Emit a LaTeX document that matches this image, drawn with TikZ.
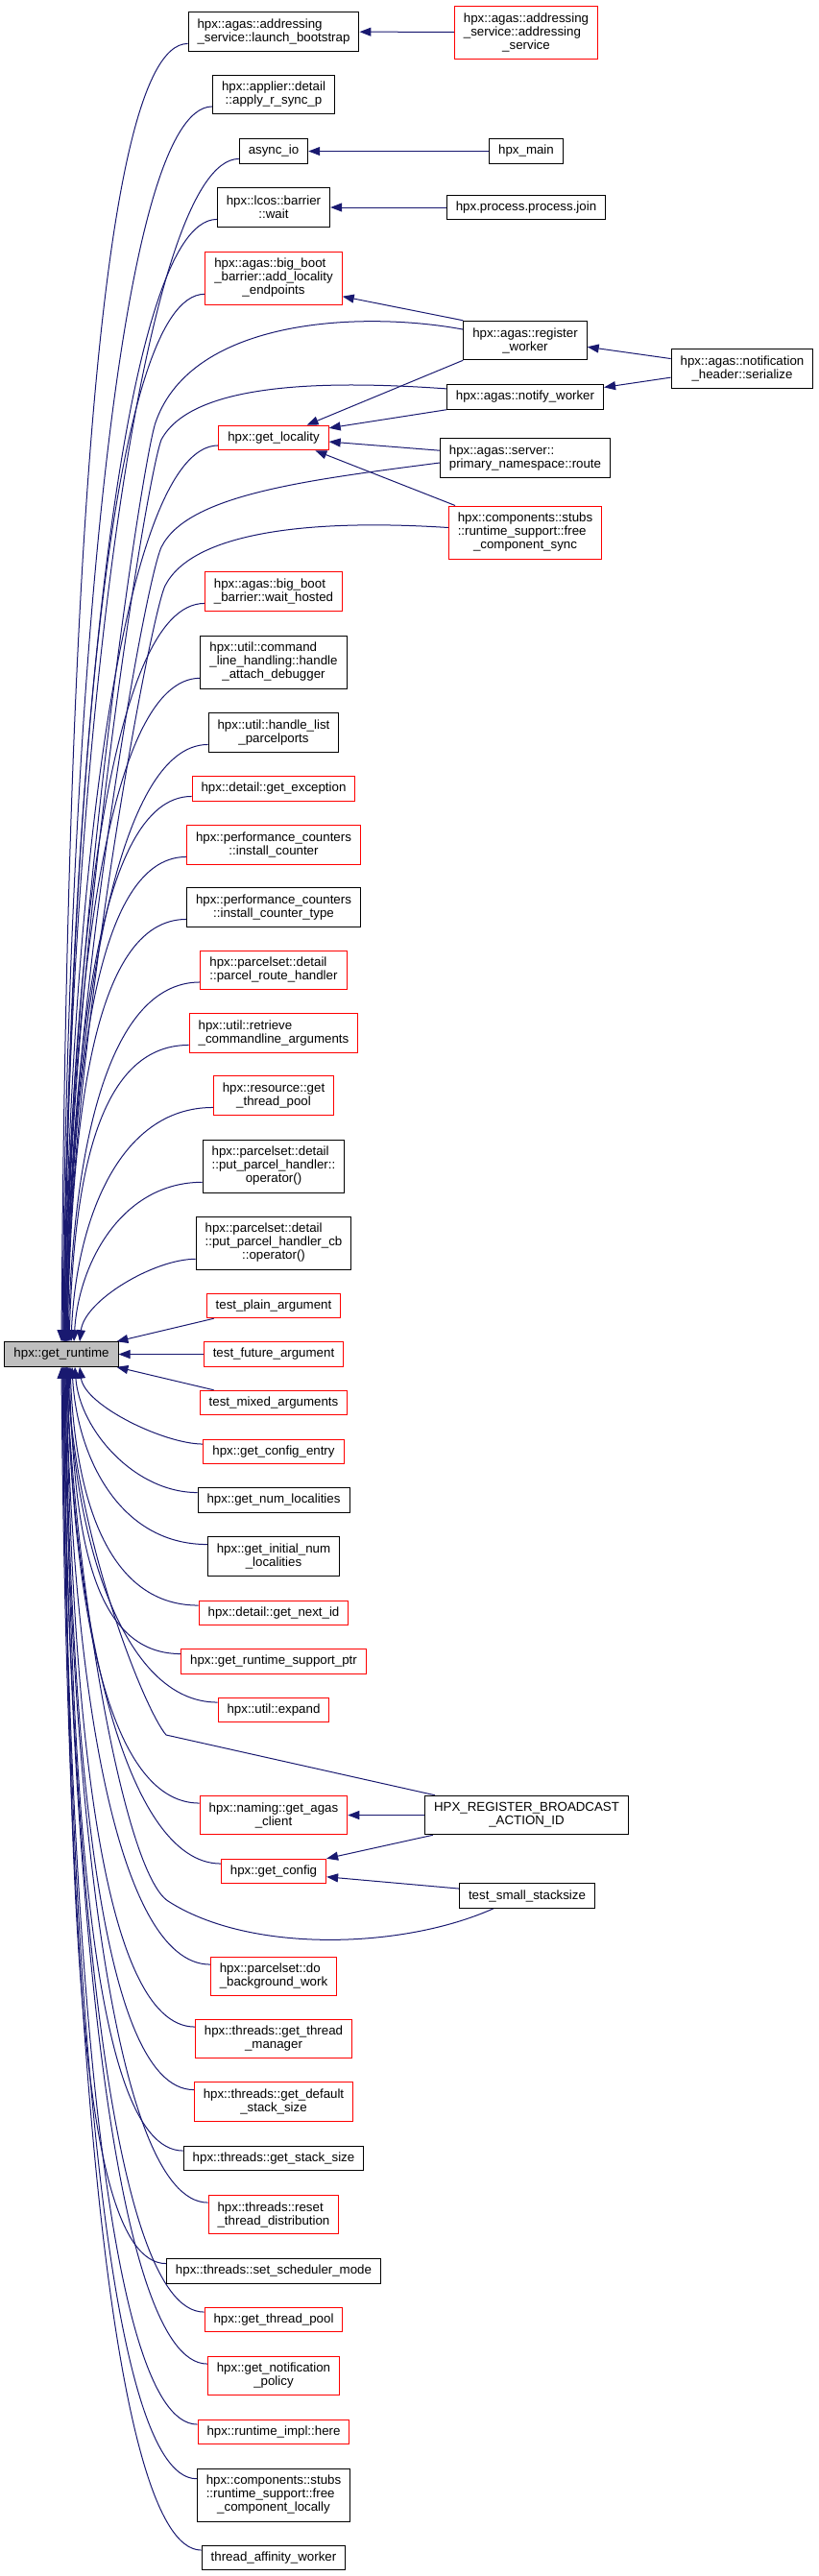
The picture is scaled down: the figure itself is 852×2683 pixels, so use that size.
\documentclass[tikz,border=0pt]{standalone}
\usepackage{fontspec}
\setmainfont{Liberation Sans}
\usetikzlibrary{arrows.meta,calc,backgrounds}
\definecolor{edgeblue}{RGB}{25,25,112}
\definecolor{curgray}{RGB}{191,191,191}
\newcommand{\lastln}[1]{\hspace*{\fill}#1\hspace*{\fill}}
\tikzset{
  >={Triangle[length=12pt,width=9pt]},
  fn/.style={draw=black,fill=white,line width=1pt,inner xsep=9.5pt,inner ysep=2pt,
    align=left,font=\fontsize{13.3}{14}\selectfont},
  call/.style={->,draw=edgeblue,line width=1pt},
}

\begin{document}
\begin{tikzpicture}[x=1pt,y=-1pt]
  \useasboundingbox (0,0) rectangle (852,2683);
  \node[fn,fill=curgray,minimum height=25.5] (rt) at (64,1410.5) {hpx::get\_runtime};
  \foreach \nm/\yy/\cl/\hh/\tx in {
    lb/33/black/40.5/{hpx::agas::addressing\\\lastln{\_service::launch\_bootstrap}},
    arsp/98.5/black/40.5/{hpx::applier::detail\\\lastln{::apply\_r\_sync\_p}},
    aio/157.5/black/25.5/{async\_io},
    bw/216/black/40.5/{hpx::lcos::barrier\\\lastln{::wait}},
    ale/289.5/red/55/{hpx::agas::big\_boot\\\_barrier::add\_locality\\\lastln{\_endpoints}},
    gl/456/red/25.5/{hpx::get\_locality},
    wh/616/red/40.5/{hpx::agas::big\_boot\\\lastln{\_barrier::wait\_hosted}},
    had/689.5/black/55/{hpx::util::command\\\_line\_handling::handle\\\lastln{\_attach\_debugger}},
    hlp/763/black/40.5/{hpx::util::handle\_list\\\lastln{\_parcelports}},
    gex/821.5/red/25.5/{hpx::detail::get\_exception},
    ic/880/red/40.5/{hpx::performance\_counters\\\lastln{::install\_counter}},
    ict/945/black/40.5/{hpx::performance\_counters\\\lastln{::install\_counter\_type}},
    prh/1010.5/red/40.5/{hpx::parcelset::detail\\\lastln{::parcel\_route\_handler}},
    rca/1076/red/40.5/{hpx::util::retrieve\\\lastln{\_commandline\_arguments}},
    rgtp/1141/red/40.5/{hpx::resource::get\\\lastln{\_thread\_pool}},
    pph/1214.5/black/55/{hpx::parcelset::detail\\::put\_parcel\_handler::\\\lastln{operator()}},
    pphcb/1294.5/black/55/{hpx::parcelset::detail\\::put\_parcel\_handler\_cb\\\lastln{::operator()}},
    tpa/1360/red/25.5/{test\_plain\_argument},
    tfa/1410.5/red/25.5/{test\_future\_argument},
    tma/1461/red/25.5/{test\_mixed\_arguments},
    gce/1512/red/25.5/{hpx::get\_config\_entry},
    gnl/1562.5/black/25.5/{hpx::get\_num\_localities},
    ginl/1621/black/40.5/{hpx::get\_initial\_num\\\lastln{\_localities}},
    gni/1680/red/25.5/{hpx::detail::get\_next\_id},
    grsp/1730.5/red/25.5/{hpx::get\_runtime\_support\_ptr},
    ue/1781/red/25.5/{hpx::util::expand},
    gac/1890.5/red/40.5/{hpx::naming::get\_agas\\\lastln{\_client}},
    gc/1949/red/25.5/{hpx::get\_config},
    dbw/2058.5/red/40.5/{hpx::parcelset::do\\\lastln{\_background\_work}},
    gtm/2123.5/red/40.5/{hpx::threads::get\_thread\\\lastln{\_manager}},
    gdss/2189/red/40.5/{hpx::threads::get\_default\\\lastln{\_stack\_size}},
    gss/2248/black/25.5/{hpx::threads::get\_stack\_size},
    rtd/2306.5/red/40.5/{hpx::threads::reset\\\lastln{\_thread\_distribution}},
    ssm/2365.5/black/25.5/{hpx::threads::set\_scheduler\_mode},
    gtp/2416/red/25.5/{hpx::get\_thread\_pool},
    gnp/2474.5/red/40.5/{hpx::get\_notification\\\lastln{\_policy}},
    rih/2533/red/25.5/{hpx::runtime\_impl::here},
    fcl/2598.5/black/55/{hpx::components::stubs\\::runtime\_support::free\\\lastln{\_component\_locally}},
    taw/2664/black/25.5/{thread\_affinity\_worker}}
  { \node[fn,draw=\cl,minimum height=\hh] (\nm) at (285,\yy) {\tx}; }

  \node[fn,draw=red,minimum height=55] (as) at (548,33.5)
    {hpx::agas::addressing\\\_service::addressing\\\lastln{\_service}};
  \node[fn,minimum height=25.5] (hmain) at (548,157.5) {hpx\_main};
  \node[fn,minimum height=25.5] (pj) at (548,216) {hpx.process.process.join};
  \node[fn,minimum height=40.5] (rw) at (547,354.5) {hpx::agas::register\\\lastln{\_worker}};
  \node[fn,minimum height=40.5] (ser) at (773,384)
    {hpx::agas::notification\\\lastln{\_header::serialize}};
  \node[fn,minimum height=25.5] (nw) at (547,413.5) {hpx::agas::notify\_worker};
  \node[fn,minimum height=40.5] (pnr) at (547,477)
    {hpx::agas::server::\\\lastln{primary\_namespace::route}};
  \node[fn,draw=red,minimum height=55] (fcs) at (547,554.5)
    {hpx::components::stubs\\::runtime\_support::free\\\lastln{\_component\_sync}};
  \node[fn,minimum height=40.5] (hrb) at (548.5,1890.5)
    {HPX\_REGISTER\_BROADCAST\\\lastln{\_ACTION\_ID}};
  \node[fn,minimum height=25.5] (tss) at (549,1974.5) {test\_small\_stacksize};

  \begin{scope}[on background layer]
    \foreach \nm/\sh in {lb/0,arsp/1,aio/2,bw/2,ale/3,gl/3,wh/4,had/4,hlp/5,gex/5,
        ic/6,ict/6,prh/7,rca/8,rgtp/10,pph/13,pphcb/19} {
      \draw[call] let \p1=($(\nm.west)!0.6!(\nm.south west)$), \p2=([xshift=\sh pt]rt.north),
        \n1={min(100pt,0.5*abs(\y1-\y2))} in
        (\p1) .. controls +(-\n1,0pt) and (\x2+5pt,{0.5*\y1+0.5*\y2}) .. (\p2);
    }
    \foreach \nm/\sh in {gce/19,gnl/14,ginl/11,gni/9,grsp/8,ue/7,gac/6,gc/6,dbw/5,gtm/5,
        gdss/4,gss/4,rtd/3,ssm/3,gtp/2,gnp/2,rih/1,fcl/1,taw/0} {
      \draw[call] let \p1=($(\nm.west)!0.6!(\nm.north west)$), \p2=([xshift=\sh pt]rt.south),
        \n1={min(100pt,0.5*abs(\y1-\y2))} in
        (\p1) .. controls +(-\n1,0pt) and (\x2+5pt,{0.5*\y1+0.5*\y2}) .. (\p2);
    }
    \draw[call] (tpa.192) -- (rt.13);
    \draw[call] (tfa) -- (rt);
    \draw[call] (tma.168) -- (rt.-13);
    \draw[call] (rw.170) .. controls (380,324) and (200,330) .. (162,440)
      .. controls (148,480) and (70,1000) .. ([xshift=3pt]rt.north);
    \draw[call] (nw.174) .. controls (340,396) and (200,398) .. (168,458)
      .. controls (152,500) and (72,1000) .. ([xshift=4pt]rt.north);
    \draw[call] ([yshift=-5pt]pnr.west) .. controls (320,500) and (195,515) .. (168,570)
      .. controls (150,610) and (72,1050) .. ([xshift=4pt]rt.north);
    \draw[call] ([yshift=5pt]fcs.west) .. controls (320,540) and (200,555) .. (172,610)
      .. controls (157,640) and (74,1080) .. ([xshift=5pt]rt.north);
    \draw[call] ([xshift=11pt]hrb.north west) -- (173,1807)
      .. controls (150,1780) and (78,1600) .. ([xshift=6pt]rt.south);
    \draw[call] ([xshift=36pt]tss.south west) .. controls (420,2030) and (260,2035) .. (175,1980)
      .. controls (129,1950) and (78,1650) .. ([xshift=5pt]rt.south);
    \draw[call] (as) -- (lb);
    \draw[call] (hmain) -- (aio);
    \draw[call] (pj) -- (bw);
    \draw[call] (rw.north west) -- (ale.-15);
    \draw[call] (rw.south west) -- (gl.21);
    \draw[call] (nw.south west) -- (gl.10);
    \draw[call] (pnr.175) -- (gl.-4);
    \draw[call] (fcs.159) -- (gl.-17);
    \draw[call] (ser.172) -- (rw.-6);
    \draw[call] (ser.187) -- (nw.7);
    \draw[call] (hrb) -- (gac);
    \draw[call] (hrb.192) -- (gc.north east);
    \draw[call] (tss.174) -- (gc.-6);
  \end{scope}
\end{tikzpicture}
\end{document}
